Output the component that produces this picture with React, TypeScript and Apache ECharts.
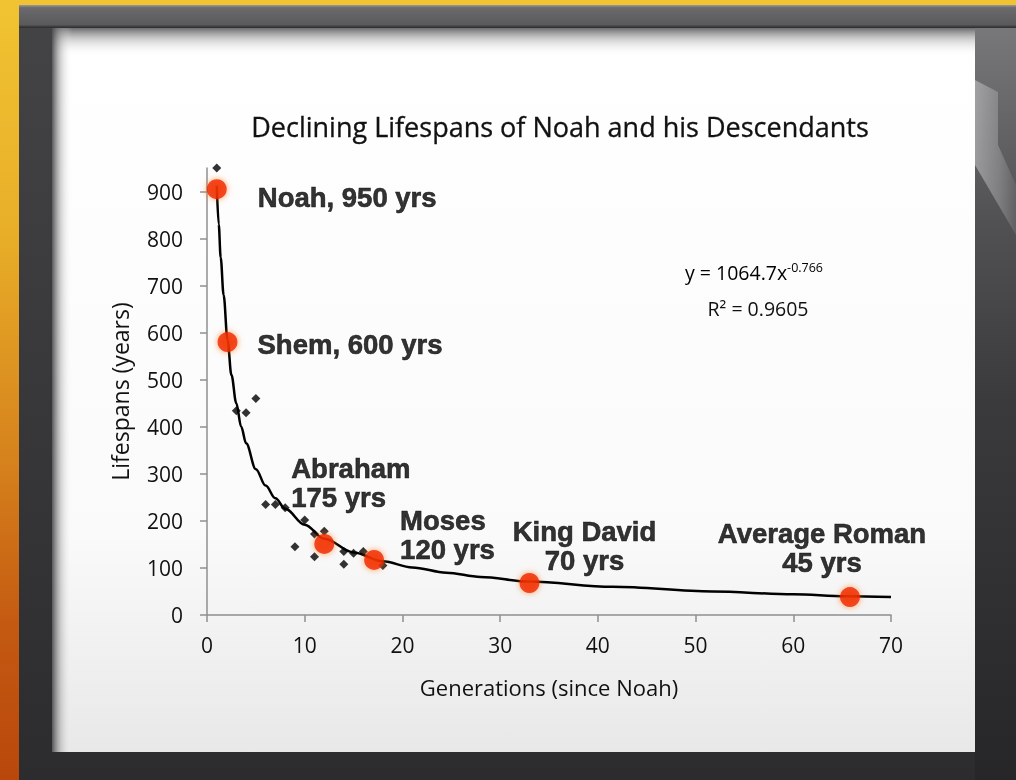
import React, { useEffect, useRef } from "react";
import * as echarts from "echarts";

// ---- data ----
const generations = [1, 3, 4, 5, 6, 7, 8, 9, 10, 11, 11, 12, 14, 14, 15, 16, 18];
const lifespans = [950, 434, 430, 460, 235, 235, 228, 145, 202, 172, 124, 178, 108, 135, 131, 135, 105];

const highlightNames = ["Noah", "Shem", "Abraham", "Moses", "King David", "Average Roman"];
const highlightYears = [950, 600, 175, 120, 70, 45];
const highlightX = [1, 2.1, 12, 17.1, 33, 65.8];
const highlightY = [905, 580, 151, 117, 68, 38];

const trendX = [1.0, 1.2, 1.4, 1.7, 2.1, 2.5, 3, 3.5, 4, 5, 6, 7, 8, 10, 12, 15, 18, 21, 24.5, 28, 33, 41.5, 51.7, 60, 65.4, 70];
const trendY = [912, 830, 760, 680, 585, 510, 450, 400, 365, 310, 275, 248, 226, 192, 162, 133, 114, 101, 90, 81, 71, 60, 50, 44, 40, 38];

const xTicks = [0, 10, 20, 30, 40, 50, 60, 70];
const yTicks = [0, 100, 200, 300, 400, 500, 600, 700, 800, 900];

const titleText = "Declining Lifespans of Noah and his Descendants";
const xName = "Generations (since Noah)";
const yName = "Lifespans (years)";
const equation = "y = 1064.7x";
const exponent = "-0.766";
const rSquared = "R² = 0.9605";

// label layout (pixel offsets from each highlighted dot)
const labelOffsets: [number, number][] = [[41, 8], [30, 2], [-33, -61], [26, -25], [55, -37], [-28, -49]];
const labelAligns = ["left", "left", "left", "left", "center", "center"];
const singleLine = [true, true, false, false, false, false];

const FONT = "'Open Sans', sans-serif";
const BOLD = "'Liberation Sans', Arial, sans-serif";
const INK = "#111111";

export default function App() {
  const ref = useRef<HTMLDivElement>(null);
  useEffect(() => {
    if (!ref.current) return;
    const chart = echarts.init(ref.current, null, { renderer: "svg" });

    const scatterData = generations.map((g, i) => [g, lifespans[i]]);
    const trendData = trendX.map((x, i) => [x, trendY[i]]);
    const highlightData = highlightNames.map((n, i) => ({
      value: [highlightX[i], highlightY[i]],
      label: {
        show: true,
        position: "inside",
        formatter: singleLine[i]
          ? `${n}, ${highlightYears[i]} yrs`
          : `${n}\n${highlightYears[i]} yrs`,
        align: labelAligns[i],
        verticalAlign: "middle",
        offset: labelOffsets[i],
        fontFamily: BOLD,
        fontWeight: "bold",
        fontSize: 27.5,
        lineHeight: 29,
        color: "#000",
        textBorderColor: "#000",
        textBorderWidth: 0.6,
      },
    }));

    const frame: any[] = [
      {
        type: "rect",
        z: -20,
        silent: true,
        shape: { x: 0, y: 0, width: 1016, height: 780 },
        style: {
          fill: new echarts.graphic.LinearGradient(0, 0, 0, 1, [
            { offset: 0, color: "#f1c332" },
            { offset: 0.3, color: "#e8ae28" },
            { offset: 0.6, color: "#d5801c" },
            { offset: 0.8, color: "#c45a12" },
            { offset: 1, color: "#b9470c" },
          ]),
        },
      },
      {
        type: "rect",
        z: -19,
        silent: true,
        shape: { x: 19, y: 5, width: 997, height: 775 },
        style: {
          fill: new echarts.graphic.LinearGradient(0, 0, 0, 1, [
            { offset: 0, color: "#444446" },
            { offset: 1, color: "#2c2c2e" },
          ]),
        },
      },
      // top band
      {
        type: "rect",
        z: -18,
        silent: true,
        shape: { x: 19, y: 5, width: 997, height: 23 },
        style: {
          fill: new echarts.graphic.LinearGradient(0, 0, 0, 1, [
            { offset: 0, color: "#9a9a9c" },
            { offset: 0.12, color: "#6a6a6c" },
            { offset: 0.85, color: "#5a5a5c" },
            { offset: 1, color: "#2a2a2a" },
          ]),
        },
      },
      // right side frame
      {
        type: "rect",
        z: -18,
        silent: true,
        shape: { x: 975, y: 28, width: 41, height: 752 },
        style: {
          fill: new echarts.graphic.LinearGradient(0, 0, 0, 1, [
            { offset: 0, color: "#78787a" },
            { offset: 0.25, color: "#525254" },
            { offset: 0.5, color: "#3a3a3c" },
            { offset: 1, color: "#262628" },
          ]),
        },
      },
      {
        type: "polygon",
        z: -17,
        silent: true,
        shape: { points: [[975, 80], [998, 92], [998, 145], [1016, 185], [1016, 235], [975, 165]] },
        style: {
          fill: new echarts.graphic.LinearGradient(0, 0, 1, 0, [
            { offset: 0, color: "#c4c4c6" },
            { offset: 0.6, color: "#98989a" },
            { offset: 1, color: "#6a6a6c" },
          ]),
          opacity: 0.6,
        },
      },
      // inner panel
      {
        type: "rect",
        z: -16,
        silent: true,
        shape: { x: 52, y: 28, width: 923, height: 724 },
        style: {
          fill: new echarts.graphic.LinearGradient(0, 0, 0, 1, [
            { offset: 0, color: "#ffffff" },
            { offset: 0.7, color: "#fafafa" },
            { offset: 1, color: "#e8e8e8" },
          ]),
        },
      },
      // inner shadows (top and left)
      {
        type: "rect",
        z: -15,
        silent: true,
        shape: { x: 52, y: 28, width: 923, height: 28 },
        style: {
          fill: new echarts.graphic.LinearGradient(0, 0, 0, 1, [
            { offset: 0, color: "rgba(100,100,102,0.95)" },
            { offset: 0.4, color: "rgba(160,160,162,0.5)" },
            { offset: 1, color: "rgba(255,255,255,0)" },
          ]),
        },
      },
      {
        type: "rect",
        z: -15,
        silent: true,
        shape: { x: 52, y: 28, width: 20, height: 724 },
        style: {
          fill: new echarts.graphic.LinearGradient(0, 0, 1, 0, [
            { offset: 0, color: "rgba(70,70,72,0.9)" },
            { offset: 0.45, color: "rgba(150,150,152,0.4)" },
            { offset: 1, color: "rgba(255,255,255,0)" },
          ]),
        },
      },
      // equation
      {
        type: "text",
        z: 10,
        x: 754,
        y: 272,
        style: {
          text: `{a|${equation}}{s|${exponent}}`,
          align: "center",
          verticalAlign: "middle",
          rich: {
            a: { fontFamily: FONT, fontSize: 19.5, color: INK },
            s: { fontFamily: FONT, fontSize: 12.5, color: INK, padding: [0, 0, 10, 0] },
          },
        },
      },
      {
        type: "text",
        z: 10,
        x: 758,
        y: 308,
        style: {
          text: rSquared,
          align: "center",
          verticalAlign: "middle",
          fontFamily: FONT,
          fontSize: 19.5,
          fill: INK,
        },
      },
    ];

    chart.setOption({
      animation: false,
      backgroundColor: "transparent",
      title: {
        text: titleText,
        left: 555,
        top: 108,
        textAlign: "center",
        textStyle: {
          fontFamily: FONT,
          fontSize: 27,
          fontWeight: "normal",
          color: INK,
          textBorderColor: INK,
          textBorderWidth: 0.3,
        },
      },
      graphic: { elements: frame },
      grid: { left: 207, right: 125, top: 168, bottom: 165, containLabel: false },
      xAxis: {
        type: "value",
        min: 0,
        max: 70,
        interval: 10,
        splitLine: { show: false },
        axisLine: { lineStyle: { color: "#8f8f8f", width: 1.5 } },
        axisTick: { show: true, length: 7, lineStyle: { color: "#8f8f8f", width: 1.5 }, customValues: xTicks },
        axisLabel: { customValues: xTicks, margin: 19, fontFamily: FONT, fontSize: 21, color: INK },
        name: xName,
        nameLocation: "middle",
        nameGap: 61,
        nameTextStyle: { fontFamily: FONT, fontSize: 22, color: INK },
      },
      yAxis: {
        type: "value",
        min: 0,
        max: 950,
        interval: 100,
        splitLine: { show: false },
        axisLine: { show: true, lineStyle: { color: "#8f8f8f", width: 1.5 } },
        axisTick: { show: true, length: 7, lineStyle: { color: "#8f8f8f", width: 1.5 }, customValues: yTicks },
        axisLabel: { customValues: yTicks, margin: 24, fontFamily: FONT, fontSize: 21, color: INK },
        name: yName,
        nameLocation: "middle",
        nameGap: 76,
        nameRotate: 90,
        nameTextStyle: { fontFamily: FONT, fontSize: 23, color: INK },
      },
      series: [
        {
          type: "scatter",
          data: scatterData,
          symbol: "diamond",
          symbolSize: 9,
          itemStyle: { color: "#000" },
          z: 3,
        },
        {
          type: "line",
          data: trendData,
          showSymbol: false,
          symbol: "none",
          smooth: 0.35,
          smoothMonotone: "x",
          lineStyle: { color: "#000", width: 2.5 },
          z: 4,
        },
        {
          type: "scatter",
          data: highlightData,
          symbol: "circle",
          symbolSize: 20,
          itemStyle: {
            color: "#f01e00",
            shadowColor: "rgba(255,110,20,0.8)",
            shadowBlur: 6,
          },
          z: 5,
        },
      ],
    } as any);

    return () => chart.dispose();
  }, []);

  return (
    <div
      ref={ref}
      style={{ position: "fixed", left: 0, top: 0, width: 1016, height: 780 }}
    />
  );
}
